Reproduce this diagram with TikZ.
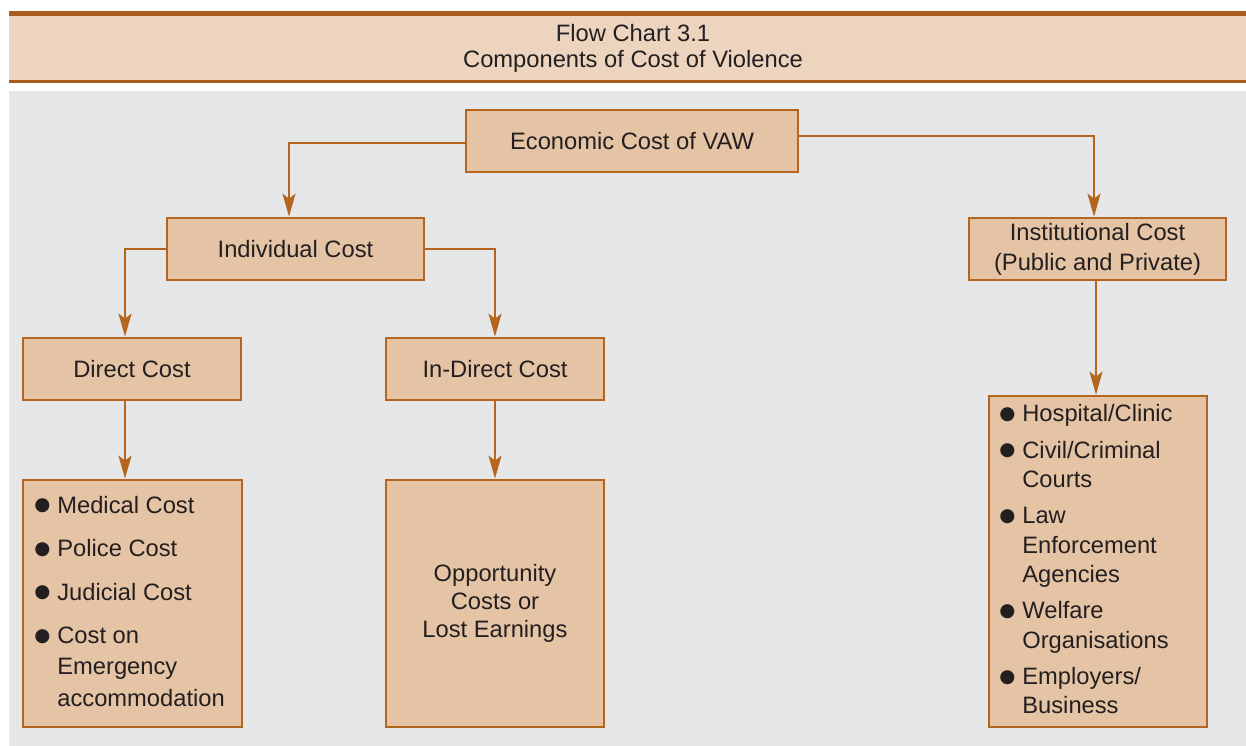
\documentclass[tikz,border=0pt]{standalone}
\usepackage{fontspec}
\setmainfont{Liberation Sans}
\newfontfamily\djv{DejaVu Sans}
\usetikzlibrary{arrows.meta,calc}
\definecolor{hdrfill}{HTML}{EDD4BE}
\definecolor{hdrline}{HTML}{A85C1E}
\definecolor{bggrey}{HTML}{E6E7E8}
\definecolor{boxfill}{HTML}{E5C4A5}
\definecolor{brownln}{HTML}{B4661F}
\definecolor{ink}{HTML}{231F20}
\newlength\pxu
\setlength\pxu{0.02cm}
\newcommand\bul{\makebox[23\pxu][l]{\raisebox{2.4\pxu}{\djv\fontsize{10.5}{10.5}\selectfont ●}}}
\begin{document}
\begin{tikzpicture}[x=0.02cm,y=-0.02cm,
  box/.style={draw=brownln, fill=boxfill, line width=0.055cm, rectangle, inner sep=0pt,
    align=center, text=ink, font=\fontsize{13.5}{17}\selectfont},
  arr/.style={draw=brownln, line width=0.048cm,
    -{Stealth[length=0.46cm,width=0.26cm,inset=0.1cm]}},
  listtxt/.style={inner sep=0pt, anchor=base west, text=ink, align=left}
]
\useasboundingbox (0,0) rectangle (1246,746);
% header band
\fill[hdrfill] (9,16) rectangle (1246,80);
\fill[hdrline] (9,11) rectangle (1246,16);
\fill[hdrline] (9,80) rectangle (1246,83);
\node[text=ink, align=center, inner sep=0pt, font=\fontsize{13.5}{14.7}\selectfont] (title) at (633,48)
  {Flow Chart 3.1\\Components of Cost of Violence};
% grey panel
\fill[bggrey] (9,91) rectangle (1246,746);
% boxes
\node[box, minimum width=332\pxu, minimum height=62\pxu] (econ) at (632,141) {Economic Cost of VAW};
\node[box, minimum width=257\pxu, minimum height=62\pxu] (indiv) at (295.5,249) {Individual Cost};
\node[box, minimum width=257\pxu, minimum height=62\pxu] (inst) at (1097.5,249) {Institutional Cost\\(Public and Private)};
\node[box, minimum width=218\pxu, minimum height=62\pxu] (direct) at (132,369) {Direct Cost};
\node[box, minimum width=218\pxu, minimum height=62\pxu] (indirect) at (495,369) {In-Direct Cost};
\node[box, minimum width=219\pxu, minimum height=247\pxu] (dlist) at (132.5,603.5) {};
\node[box, minimum width=218\pxu, minimum height=247\pxu, font=\fontsize{13.5}{16}\selectfont] (opp) at (495,603.5)
  {Opportunity\\Costs or\\Lost Earnings};
\node[box, minimum width=218\pxu, minimum height=331\pxu] (ilist) at (1098,561.5) {};
% list texts
\node[listtxt, font=\fontsize{13.5}{17.8}\selectfont] (dtxt) at (34,513)
  {\begin{tabular}[t]{@{}l@{}l@{}}
   \bul & Medical Cost\\[7pt]
   \bul & Police Cost\\[7pt]
   \bul & Judicial Cost\\[7pt]
   \bul & Cost on\\
        & Emergency\\
        & accommodation
   \end{tabular}};
\node[listtxt, font=\fontsize{13.5}{16.7}\selectfont] (itxt) at (999,421.7)
  {\begin{tabular}[t]{@{}l@{}l@{}}
   \bul & Hospital/Clinic\\[4pt]
   \bul & Civil/Criminal\\
        & Courts\\[4pt]
   \bul & Law\\
        & Enforcement\\
        & Agencies\\[4pt]
   \bul & Welfare\\
        & Organisations\\[4pt]
   \bul & Employers/\\
        & Business
   \end{tabular}};
% connectors
\draw[arr] ($(econ.west)+(0,2)$) -| ($(indiv.north)+(-6.5,0)$);
\draw[arr] ($(econ.east)+(0,-5)$) -| ($(inst.north)+(-3.5,0)$);
\draw[arr] (indiv.west) -| ($(direct.north)+(-7,0)$);
\draw[arr] (indiv.east) -| (indirect.north);
\draw[arr] ($(direct.south)+(-7,0)$) -- ($(dlist.north)+(-7.5,0)$);
\draw[arr] (indirect.south) -- (opp.north);
\draw[arr] ($(inst.south)+(-1.5,0)$) -- ($(ilist.north)+(-2,0)$);
\end{tikzpicture}
\end{document}
